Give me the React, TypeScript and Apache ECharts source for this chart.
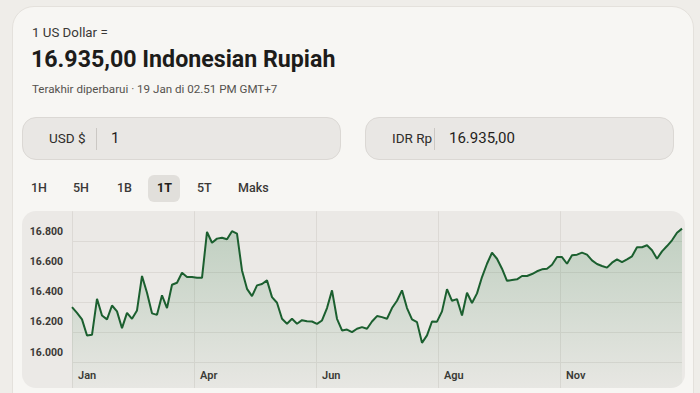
import React, { useEffect, useRef } from "react";
import * as echarts from "echarts";

// USD → IDR daily rate, one point every 3 days over the last year
const dayStep = 3;
const rates = [
  16366, 16328, 16285, 16179, 16183, 16421, 16311, 16285, 16377, 16338,
  16227, 16328, 16289, 16344, 16572, 16461, 16325, 16315, 16444, 16360,
  16514, 16527, 16593, 16565, 16565, 16560, 16560, 16863, 16792, 16819,
  16825, 16815, 16868, 16852, 16609, 16487, 16439, 16510, 16519, 16543,
  16432, 16395, 16289, 16256, 16289, 16256, 16280, 16273, 16271, 16255,
  16278, 16360, 16477, 16289, 16212, 16218, 16201, 16223, 16234, 16223,
  16271, 16307, 16300, 16289, 16360, 16408, 16477, 16360, 16285, 16267,
  16130, 16179, 16271, 16270, 16338, 16485, 16408, 16419, 16311, 16461,
  16393, 16457, 16565, 16653, 16726, 16686, 16620, 16540, 16545, 16550,
  16572, 16572, 16585, 16603, 16616, 16620, 16646, 16697, 16697, 16653,
  16709, 16713, 16726, 16713, 16675, 16651, 16638, 16627, 16660, 16682,
  16664, 16682, 16702, 16762, 16762, 16775, 16742, 16686, 16735, 16770,
  16808, 16858, 16885,
];

// month names shown at each fifth of the period
const monthLabels = ["Jan", "Apr", "Jun", "Agu", "Nov"];
const periodDays = 366;
const tickDays = 73.2;

// y-axis: labelled rates
const yLabelMin = 16000;
const yLabelMax = 16800;

const rangeButtons = ["1H", "5H", "1B", "1T", "5T", "Maks"];
const activeRange = "1T";

const FONT = "Roboto, 'Noto Sans', Arial, sans-serif";
const GRID = "#dcd9d5";

function formatRate(v: number) {
  const th = Math.floor(v / 1000);
  const rest = String(Math.round(v % 1000)).padStart(3, "0");
  return `${th}.${rest}`;
}

function RateChart() {
  const ref = useRef<HTMLDivElement>(null);
  useEffect(() => {
    if (!ref.current) return;
    const chart = echarts.init(ref.current, null, { renderer: "svg" });
    chart.setOption({
      animation: false,
      grid: { left: 50, right: 2, top: 0.25, bottom: 0.25 },
      xAxis: {
        type: "value",
        min: 0,
        max: periodDays,
        interval: tickDays,
        axisLine: { show: false },
        axisTick: { show: false },
        splitLine: {
          show: true,
          lineStyle: { color: [GRID, GRID, GRID, GRID, GRID, "transparent"], width: 1 },
        },
        axisLabel: {
          inside: true,
          margin: 12,
          align: "left",
          padding: [0, 0, 0, 6],
          color: "#3a3835",
          fontFamily: FONT,
          fontWeight: 600,
          fontSize: 11,
          formatter: (v: number) => monthLabels[Math.round(v / tickDays)] ?? "",
        },
      },
      yAxis: {
        type: "value",
        min: 15800,
        max: 17000,
        interval: 200,
        axisLine: { show: false },
        axisTick: { show: false },
        splitLine: {
          show: true,
          lineStyle: {
            color: ["transparent", GRID, GRID, GRID, GRID, GRID, "transparent"],
            width: 1,
          },
        },
        axisLabel: {
          margin: 9,
          verticalAlign: "bottom",
          padding: [0, 0, 5, 0],
          color: "#3a3835",
          fontFamily: FONT,
          fontWeight: 700,
          fontSize: 10.5,
          formatter: (v: number) => (v >= yLabelMin && v <= yLabelMax ? formatRate(v) : ""),
        },
      },
      series: [
        {
          type: "line",
          data: rates.map((v, i) => [i * dayStep, v]),
          symbol: "none",
          smooth: false,
          lineStyle: { color: "#1b5f2f", width: 2 },
          areaStyle: {
            color: new echarts.graphic.LinearGradient(0, 0, 0, 1, [
              { offset: 0, color: "rgba(45,120,65,0.32)" },
              { offset: 1, color: "rgba(45,120,65,0.02)" },
            ]),
          },
        },
      ],
    });
    return () => chart.dispose();
  }, []);
  return (
    <div
      ref={ref}
      style={{ position: "absolute", left: 0, top: 0, width: 663, height: 182 }}
    />
  );
}

function AmountBox(props: { left: number; width: number; unit: string; sepX: number; valueX: number; value: string }) {
  const { left, width, unit, sepX, valueX, value } = props;
  return (
    <div
      style={{
        position: "absolute",
        left,
        top: 117,
        width,
        height: 43,
        boxSizing: "border-box",
        borderRadius: 14,
        background: "#e9e7e4",
        border: "1px solid #dbd8d4",
      }}
    >
      <div style={{ position: "absolute", left: 26, top: 0, height: 41, lineHeight: "41px", fontSize: 13.5, color: "#2f2d2b" }}>
        {unit}
      </div>
      <div style={{ position: "absolute", left: sepX, top: 10, width: 1, height: 22, background: "#cbc8c4" }} />
      <div style={{ position: "absolute", left: valueX, top: 0, height: 41, lineHeight: "41px", fontSize: 15, color: "#1f1e1c" }}>
        {value}
      </div>
    </div>
  );
}

const tabX: Record<string, number> = { "1H": 31, "5H": 73, "1B": 117, "1T": 157, "5T": 197, Maks: 238 };

export default function App() {
  return (
    <div
      style={{
        position: "fixed",
        left: 0,
        top: 0,
        width: 700,
        height: 393,
        overflow: "hidden",
        background: "#efede9",
        fontFamily: FONT,
      }}
    >
      <div
        style={{
          position: "absolute",
          left: 12,
          top: 6,
          width: 682,
          height: 420,
          boxSizing: "border-box",
          borderRadius: 22,
          background: "#f7f6f3",
          border: "1px solid #e4e1dc",
        }}
      />
      <div style={{ position: "absolute", left: 32, top: 24, fontSize: 13.3, lineHeight: "18px", color: "#3a3836" }}>
        1 US Dollar =
      </div>
      <div style={{ position: "absolute", left: 31, top: 44, fontSize: 23.2, lineHeight: "30px", fontWeight: 700, color: "#1d1c1a" }}>
        16.935,00 Indonesian Rupiah
      </div>
      <div style={{ position: "absolute", left: 32, top: 81, fontSize: 11.6, lineHeight: "16px", color: "#55524e" }}>
        Terakhir diperbarui · 19 Jan di 02.51 PM GMT+7
      </div>

      <AmountBox left={22} width={319} unit="USD $" sepX={73} valueX={88} value="1" />
      <AmountBox left={365} width={309} unit="IDR Rp" sepX={68} valueX={83} value="16.935,00" />

      <div style={{ position: "absolute", left: 148, top: 175, width: 32, height: 27, borderRadius: 6, background: "#e1dfdb" }} />
      {rangeButtons.map((b) => (
        <div
          key={b}
          style={{
            position: "absolute",
            left: tabX[b],
            top: 180,
            fontSize: 12.5,
            lineHeight: "16px",
            fontWeight: b === activeRange ? 700 : 500,
            color: b === activeRange ? "#1d1c1a" : "#3a3836",
          }}
        >
          {b}
        </div>
      ))}

      <div
        style={{
          position: "absolute",
          left: 22,
          top: 211,
          width: 663,
          height: 177,
          borderRadius: 14,
          overflow: "hidden",
          background: "#ebe9e6",
        }}
      >
        <RateChart />
      </div>
    </div>
  );
}
